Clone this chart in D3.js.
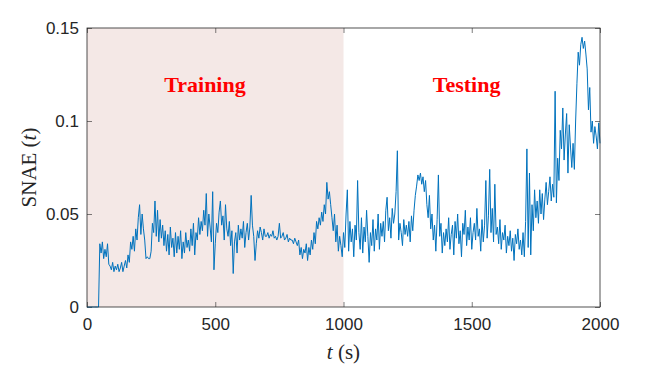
<!DOCTYPE html>
<html>
<head>
  <meta charset="utf-8">
  <title>SNAE over time</title>
  <script src="https://cdnjs.cloudflare.com/ajax/libs/d3/7.8.5/d3.min.js"></script>
  <style>
    html, body { margin: 0; padding: 0; background: #fff; }
    svg { display: block; }
    .tick text { font-family: "Liberation Sans", Arial, sans-serif; font-size: 17px; fill: #262626; }
  </style>
</head>
<body>
  <svg id="chart" width="664" height="366"></svg>
  <script>
    // sample spacing of the series, seconds
    let dt = 5
    // SNAE(t) sampled every 5 s, from t = 0 to t = 2000
    let snae = [
      0, 0, 0, 0, 0, 0, 0, 0, 0, 0,
      .034, .029, .035, .026, .031, .027, .034, .023, .022, .020,
      .024, .019, .022, .020, .023, .019, .021, .024, .019, .022,
      .025, .021, .028, .024, .035, .031, .038, .030, .042, .036,
      .048, .055, .039, .050, .042, .036, .026, .027, .026, .026,
      .030, .045, .040, .057, .038, .052, .035, .047, .037, .044,
      .033, .041, .030, .039, .028, .043, .032, .037, .027, .040,
      .029, .038, .031, .041, .026, .035, .029, .040, .032, .036,
      .030, .042, .033, .045, .028, .040, .036, .048, .039, .046,
      .041, .052, .044, .061, .038, .050, .043, .035, .062, .020,
      .034, .045, .040, .051, .057, .044, .049, .036, .055, .042,
      .038, .046, .033, .041, .018, .035, .040, .029, .044, .036,
      .042, .037, .046, .032, .040, .045, .036, .043, .060, .044,
      .038, .025, .034, .041, .037, .043, .040, .036, .042, .038,
      .038, .040, .037, .039, .038, .041, .037, .038, .036, .038,
      .045, .037, .038, .040, .036, .037, .039, .035, .037, .036,
      .036, .034, .037, .035, .033, .036, .028, .032, .026, .031,
      .029, .034, .025, .032, .028, .036, .031, .040, .034, .046,
      .042, .048, .044, .051, .046, .055, .050, .067, .058, .062,
      .055, .048, .041, .050, .035, .044, .030, .038, .033, .027,
      .040, .032, .050, .063, .030, .046, .035, .042, .027, .044,
      .036, .068, .040, .031, .048, .029, .043, .035, .052, .038,
      .024, .040, .033, .047, .030, .042, .036, .050, .031, .045,
      .038, .046, .035, .052, .059, .041, .048, .037, .053, .045,
      .050, .062, .084, .036, .045, .040, .033, .047, .039, .044,
      .038, .046, .035, .049, .041, .052, .060, .065, .071, .068,
      .072, .066, .070, .062, .068, .055, .048, .060, .042, .050,
      .036, .044, .030, .047, .071, .038, .045, .029, .040, .033,
      .042, .035, .048, .031, .039, .044, .028, .046, .037, .050,
      .034, .041, .027, .045, .039, .052, .033, .043, .036, .048,
      .031, .040, .045, .036, .053, .038, .042, .030, .047, .035,
      .044, .068, .037, .049, .074, .040, .053, .035, .066, .039,
      .043, .034, .047, .031, .040, .036, .044, .029, .038, .033,
      .041, .030, .037, .025, .039, .034, .042, .031, .036, .028,
      .040, .027, .046, .085, .032, .072, .028, .055, .041, .063,
      .048, .057, .045, .063, .050, .061, .047, .058, .067, .055,
      .062, .070, .057, .066, .059, .116, .056, .080, .068, .095,
      .085, .107, .079, .093, .104, .072, .098, .086, .075, .088,
      .074, .100, .120, .137, .130, .141, .145, .139, .143, .136,
      .128, .106, .118, .094, .100, .088, .097, .092, .085, .099,
      .088
    ]

    let xTicks = [0, 500, 1000, 1500, 2000]
    let yTicks = [0, 0.05, 0.1, 0.15]
    let trainingSpan = [0, 1000]
    let phaseLabels = ['Training', 'Testing']
    let phaseCenters = [460, 1480]

    let margin = { top: 28, right: 64, bottom: 59, left: 87 }
    let width = 664
    let height = 366
    let innerW = width - margin.left - margin.right
    let innerH = height - margin.top - margin.bottom

    let axisColor = '#262626'
    let lineColor = '#0072bd'
    let serif = '"Liberation Serif", "Times New Roman", serif'

    let svg = d3.select('#chart')
    let g = svg.append('g').attr('transform', `translate(${margin.left},${margin.top})`)

    let x = d3.scaleLinear().domain([0, 2000]).range([0, innerW])
    let y = d3.scaleLinear().domain([0, 0.15]).range([innerH, 0])

    // shaded training period
    g.append('rect')
      .attr('x', x(trainingSpan[0]))
      .attr('y', 0)
      .attr('width', x(trainingSpan[1]) - x(trainingSpan[0]))
      .attr('height', innerH)
      .attr('fill', '#f4e8e6')

    const tickStyle = (sel) => {
      sel.select('.domain').remove()
      sel.selectAll('.tick line').attr('stroke', axisColor).attr('stroke-width', 0.6)
    }

    // bottom / left axes, ticks pointing inward
    g.append('g')
      .attr('transform', `translate(0,${innerH})`)
      .call(d3.axisBottom(x).tickValues(xTicks).tickSize(-5).tickPadding(11).tickFormat(d3.format('d')))
      .call(tickStyle)

    g.append('g')
      .call(d3.axisLeft(y).tickValues(yTicks).tickSize(-5).tickPadding(8).tickFormat(d => d === 0 ? '0' : String(d)))
      .call(tickStyle)

    // top / right mirrored ticks without labels
    g.append('g')
      .call(d3.axisTop(x).tickValues(xTicks).tickSize(-5).tickFormat(''))
      .call(tickStyle)

    g.append('g')
      .attr('transform', `translate(${innerW},0)`)
      .call(d3.axisRight(y).tickValues(yTicks).tickSize(-5).tickFormat(''))
      .call(tickStyle)

    // data line
    let line = d3.line()
      .x((d, i) => x(i * dt))
      .y(d => y(d))

    g.append('path')
      .datum(snae)
      .attr('fill', 'none')
      .attr('stroke', lineColor)
      .attr('stroke-width', 1)
      .attr('stroke-linejoin', 'round')
      .attr('d', line)

    // axes box
    g.append('rect')
      .attr('width', innerW)
      .attr('height', innerH)
      .attr('fill', 'none')
      .attr('stroke', axisColor)
      .attr('stroke-width', 0.8)

    // phase labels
    g.selectAll('.phase')
      .data(phaseLabels)
      .join('text')
      .attr('class', 'phase')
      .attr('x', (d, i) => x(phaseCenters[i]))
      .attr('y', 64)
      .attr('text-anchor', 'middle')
      .attr('font-family', serif)
      .attr('font-weight', 'bold')
      .attr('font-size', 22)
      .attr('fill', '#ff0000')
      .text(d => d)

    // axis titles
    let xt = svg.append('text')
      .attr('x', margin.left + innerW / 2)
      .attr('y', 359)
      .attr('text-anchor', 'middle')
      .attr('font-family', serif)
      .attr('font-size', 21)
      .attr('fill', axisColor)
    xt.append('tspan').attr('font-style', 'italic').text('t')
    xt.append('tspan').text(' (s)')

    let yt = svg.append('text')
      .attr('transform', `translate(36,${margin.top + innerH / 2}) rotate(-90)`)
      .attr('text-anchor', 'middle')
      .attr('font-family', serif)
      .attr('font-size', 21)
      .attr('fill', axisColor)
    yt.append('tspan').text('SNAE (')
    yt.append('tspan').attr('font-style', 'italic').text('t')
    yt.append('tspan').text(')')
  </script>
</body>
</html>
